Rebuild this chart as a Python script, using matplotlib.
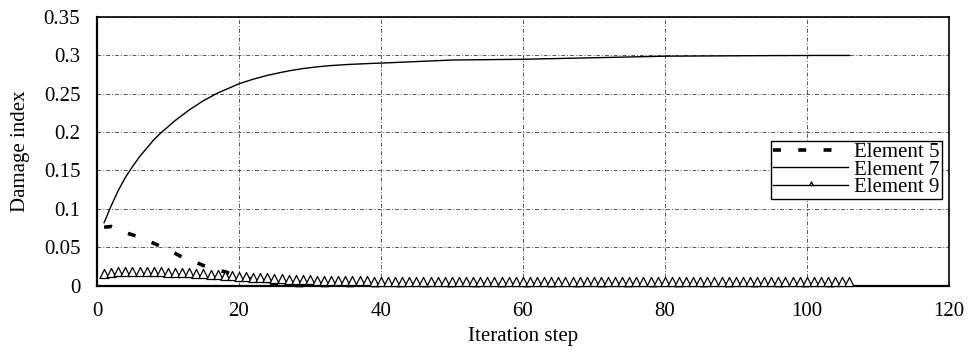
import matplotlib
matplotlib.use("Agg")
import matplotlib.pyplot as plt
from matplotlib.path import Path

plt.rcParams["font.family"] = ["Liberation Serif", "DejaVu Serif"]

steps = list(range(1, 107))

element_5 = [
    0.076, 0.077, 0.073, 0.069, 0.066, 0.063, 0.059, 0.055, 0.051, 0.047,
    0.042, 0.037, 0.033, 0.030, 0.026, 0.023, 0.020, 0.018, 0.015, 0.013,
    0.010, 0.008, 0.005, 0.003, 0.001, 0.0, 0.0, 0.0, 0.0, 0.0,
    0.0, 0.0, 0.0, 0.0, 0.0, 0.0, 0.0, 0.0, 0.0, 0.0,
    0.0, 0.0, 0.0, 0.0, 0.0, 0.0, 0.0, 0.0, 0.0, 0.0,
    0.0, 0.0, 0.0, 0.0, 0.0, 0.0, 0.0, 0.0, 0.0, 0.0,
    0.0, 0.0, 0.0, 0.0, 0.0, 0.0, 0.0, 0.0, 0.0, 0.0,
    0.0, 0.0, 0.0, 0.0, 0.0, 0.0, 0.0, 0.0, 0.0, 0.0,
    0.0, 0.0, 0.0, 0.0, 0.0, 0.0, 0.0, 0.0, 0.0, 0.0,
    0.0, 0.0, 0.0, 0.0, 0.0, 0.0, 0.0, 0.0, 0.0, 0.0,
    0.0, 0.0, 0.0, 0.0, 0.0, 0.0,
]

element_7 = [
    0.082, 0.104, 0.124, 0.141, 0.155, 0.168, 0.179, 0.190, 0.199, 0.207,
    0.215, 0.222, 0.229, 0.235, 0.241, 0.246, 0.251, 0.255, 0.259, 0.263,
    0.266, 0.269, 0.2715, 0.274, 0.276, 0.278, 0.2798, 0.2814, 0.2828, 0.2840,
    0.2851, 0.2860, 0.2868, 0.2874, 0.2880, 0.2885, 0.2889, 0.2893, 0.2897, 0.2900,
    0.2904, 0.2908, 0.2912, 0.2916, 0.2920, 0.2924, 0.2928, 0.2932, 0.2936, 0.2940,
    0.2941, 0.2942, 0.2943, 0.2944, 0.2945, 0.2946, 0.2947, 0.2948, 0.2949, 0.2950,
    0.2952, 0.2954, 0.2956, 0.2958, 0.2960, 0.2962, 0.2964, 0.2966, 0.2968, 0.2970,
    0.2972, 0.2974, 0.2976, 0.2978, 0.2980, 0.2982, 0.2984, 0.2986, 0.2988, 0.2990,
    0.2991, 0.2991, 0.2992, 0.2992, 0.2993, 0.2993, 0.2994, 0.2994, 0.2995, 0.2995,
    0.2996, 0.2996, 0.2997, 0.2997, 0.2998, 0.2998, 0.2998, 0.2999, 0.2999, 0.2999,
    0.3000, 0.3000, 0.3000, 0.3000, 0.3000, 0.3000,
]

element_9 = [
    0.0100, 0.0110, 0.0120, 0.0120, 0.0125, 0.0125, 0.0125, 0.0123, 0.0120, 0.0117,
    0.0113, 0.0110, 0.0105, 0.0100, 0.0095, 0.0090, 0.0083, 0.0076, 0.0070, 0.0063,
    0.0057, 0.0050, 0.0045, 0.0040, 0.0035, 0.0030, 0.0026, 0.0022, 0.0018, 0.0015,
    0.0012, 0.0010, 0.0008, 0.0006, 0.0004, 0.0003, 0.0002, 0.0001, 0.0, 0.0,
    0.0, 0.0, 0.0, 0.0, 0.0, 0.0, 0.0, 0.0, 0.0, 0.0,
    0.0, 0.0, 0.0, 0.0, 0.0, 0.0, 0.0, 0.0, 0.0, 0.0,
    0.0, 0.0, 0.0, 0.0, 0.0, 0.0, 0.0, 0.0, 0.0, 0.0,
    0.0, 0.0, 0.0, 0.0, 0.0, 0.0, 0.0, 0.0, 0.0, 0.0,
    0.0, 0.0, 0.0, 0.0, 0.0, 0.0, 0.0, 0.0, 0.0, 0.0,
    0.0, 0.0, 0.0, 0.0, 0.0, 0.0, 0.0, 0.0, 0.0, 0.0,
    0.0, 0.0, 0.0, 0.0, 0.0, 0.0,
]

x_ticks = [0, 20, 40, 60, 80, 100, 120]
y_ticks = [0, 0.05, 0.1, 0.15, 0.2, 0.25, 0.3, 0.35]
y_tick_labels = ["0", "0.05", "0.1", "0.15", "0.2", "0.25", "0.3", "0.35"]

# triangle marker whose base sits on the data point
tri_up = Path([(-1, 0), (1, 0), (0, 2), (-1, 0)],
              [Path.MOVETO, Path.LINETO, Path.LINETO, Path.CLOSEPOLY])

fig = plt.figure(figsize=(9.7, 3.56), dpi=100)
ax = fig.add_axes([0.1, 0.198, 0.878, 0.754])

ax.plot(steps, element_5, color="black", lw=2.6, linestyle=(0, (2.2, 4.8)),
        dash_capstyle="butt", label="Element 5", zorder=3, clip_on=False)
ax.plot(steps, element_7, color="black", lw=1.0, label="Element 7", zorder=3)
ax.plot(steps, element_9, color="black", lw=1.0, marker=tri_up, markersize=13,
        markerfacecolor="white", markeredgecolor="black", markeredgewidth=0.9,
        label="Element 9", zorder=4, clip_on=False)

ax.set_xlim(0, 120)
ax.set_ylim(0, 0.35)
ax.set_xticks(x_ticks)
ax.set_yticks(y_ticks)
ax.set_yticklabels(y_tick_labels)
ax.tick_params(length=0, labelsize=15)
ax.tick_params(axis="x", pad=12)
ax.tick_params(axis="y", pad=12)

ax.grid(True, color="#555555", lw=0.7, linestyle=(0, (4, 2, 1, 2)))
ax.set_axisbelow(True)

for side in ["left", "bottom"]:
    ax.spines[side].set_linewidth(1.6)
for side in ["top", "right"]:
    ax.spines[side].set_linewidth(1.2)

ax.set_xlabel("Iteration step", fontsize=15, labelpad=4)
ax.set_ylabel("Damage index", fontsize=15, labelpad=10)

leg = ax.legend(loc="upper right", bbox_to_anchor=(0.992, 0.54), fontsize=15,
                frameon=True, fancybox=False, edgecolor="black", framealpha=1,
                borderpad=0.1, labelspacing=-0.1, handlelength=3.6,
                handletextpad=0.3, borderaxespad=0, markerscale=0.4)
leg.get_frame().set_linewidth(1.0)
leg.set_zorder(10)

fig.savefig("out.png", dpi=100)
